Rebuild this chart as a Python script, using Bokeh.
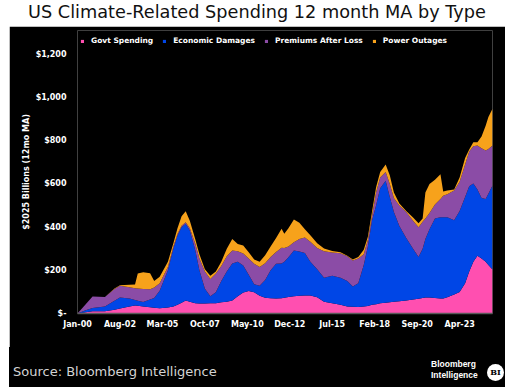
from bokeh.plotting import figure
from bokeh.models import ColumnDataSource, Range1d, FixedTicker, Legend, LegendItem, Div
from bokeh.layouts import column
from bokeh.embed import file_html
from bokeh.resources import INLINE

# months since Jan-2000
months = [0, 6, 11, 20, 27, 31, 38, 42, 44, 48, 53, 56, 60, 66, 70, 73, 76, 79, 82, 86,
          89, 93, 97, 101, 105, 109, 113, 117, 121, 125, 129, 133, 137, 141, 145, 149, 151, 154, 158, 162,
          166, 170, 175, 180, 186, 192, 197, 201, 205, 209, 212, 215, 218, 221, 225, 228, 231, 235, 240, 245,
          249, 252, 254, 257, 261, 265, 267, 270, 275, 279, 283, 286, 289, 292, 295, 298, 300, 303]
govt = [0, 6, 10, 11, 17, 23, 32, 37, 36, 33, 29, 27, 24, 28, 32, 40, 50, 60, 55, 47,
        46, 46, 47, 48, 52, 55, 60, 80, 97, 104, 98, 82, 73, 71, 69, 71, 73, 76, 80, 82,
        83, 83, 75, 55, 48, 40, 33, 31, 30, 32, 35, 40, 43, 47, 50, 52, 54, 57, 60, 65,
        68, 72, 74, 74, 72, 69, 69, 75, 88, 100, 140, 195, 240, 268, 255, 240, 225, 204]
econ = [0, 9, 15, 21, 42, 51, 38, 25, 23, 20, 36, 45, 81, 172, 268, 320, 350, 356, 330, 246,
        154, 69, 33, 51, 98, 140, 172, 160, 125, 76, 37, 46, 82, 129, 161, 161, 167, 184, 212, 205,
        197, 157, 130, 111, 127, 126, 117, 94, 110, 193, 275, 390, 457, 533, 565, 488, 416, 348, 290, 235,
        194, 228, 271, 316, 368, 377, 377, 371, 344, 375, 400, 395, 362, 307, 280, 290, 330, 389]
premiums = [0, 28, 54, 44, 55, 54, 52, 55, 57, 61, 47, 48, 35, 15, 10, 8, 6, 7, 10, 30,
            55, 80, 80, 86, 70, 70, 60, 48, 56, 75, 95, 87, 78, 62, 55, 73, 63, 50, 38, 58,
            72, 92, 99, 122, 108, 113, 115, 120, 115, 50, 30, 20, 60, 50, 40, 60, 65, 95, 120, 130,
            138, 125, 95, 75, 65, 84, 99, 106, 138, 135, 150, 160, 173, 203, 230, 225, 207, 185]
power = [0, 0, 0, 1, 2, 3, 11, 17, 69, 77, 75, 30, 30, 25, 15, 27, 44, 51, 35, 21,
         20, 10, 15, 10, 20, 35, 53, 34, 37, 29, 20, 25, 37, 48, 65, 88, 67, 85, 105, 75,
         38, 30, 21, 13, 6, 5, 3, 5, 7, 20, 15, 20, 25, 25, 35, 40, 25, 10, 5, 15,
         18, 15, 120, 135, 115, 115, 20, 18, 4, 20, 30, 10, 18, 15, 55, 115, 148, 170]

series_keys = ["govt", "econ", "premiums", "power"]
series_names = ["Govt Spending", "Economic Damages", "Premiums After Loss", "Power Outages"]
series_colors = ["#ff4fb0", "#0046e6", "#8b4ca6", "#f7a21b"]

tick_months = [0, 31, 62, 93, 124, 155, 186, 217, 248, 279]
tick_labels = ["Jan-00", "Aug-02", "Mar-05", "Oct-07", "May-10", "Dec-12",
               "Jul-15", "Feb-18", "Sep-20", "Apr-23"]
y_ticks = [0, 200, 400, 600, 800, 1000, 1200]
y_labels = ["$-", "$200", "$400", "$600", "$800", "$1,000", "$1,200"]

W = 496
src = ColumnDataSource(dict(month=months, govt=govt, econ=econ, premiums=premiums, power=power))

# y range extends above the top tick so the legend can sit inside the frame
p = figure(width=W, height=321, x_range=Range1d(0, 303), y_range=Range1d(0, 1311),
           output_backend="svg", toolbar_location=None,
           min_border_left=68, min_border_right=13, min_border_top=4, min_border_bottom=34)
p.border_fill_color = "black"
p.background_fill_color = "black"
p.outline_line_color = None
p.grid.visible = False

rs = p.varea_stack(stackers=series_keys, x="month", source=src, color=series_colors)

font = "DejaVu Sans"
p.xaxis.ticker = FixedTicker(ticks=tick_months)
p.xaxis.major_label_overrides = dict(zip(tick_months, tick_labels))
p.yaxis.ticker = FixedTicker(ticks=y_ticks)
p.yaxis.major_label_overrides = dict(zip(y_ticks, y_labels))
for ax in (p.xaxis[0], p.yaxis[0]):
    ax.major_tick_line_color = None
    ax.minor_tick_line_color = None
    ax.major_tick_out = 0
    ax.major_tick_in = 0
    ax.minor_tick_out = 0
    ax.major_label_text_color = "white"
    ax.major_label_text_font = font
    ax.major_label_text_font_style = "bold"
    ax.major_label_text_font_size = "8px"
p.xaxis.axis_line_color = "#5a5a5a"
p.xaxis.axis_line_width = 1.5
p.xaxis.major_label_standoff = 6
p.yaxis.axis_line_color = None
p.yaxis.major_label_standoff = 11
p.yaxis.axis_label = "$2025 Billions (12mo MA)"
p.yaxis.axis_label_text_color = "white"
p.yaxis.axis_label_text_font = font
p.yaxis.axis_label_text_font_style = "bold"
p.yaxis.axis_label_text_font_size = "8px"
p.yaxis.axis_label_standoff = 2

legend = Legend(items=[LegendItem(label=n, renderers=[r]) for n, r in zip(series_names, rs)],
                location=(3, 268), orientation="horizontal",
                padding=0, margin=0, spacing=9, glyph_width=4, glyph_height=4,
                label_standoff=7, label_height=8,
                label_text_font=font, label_text_font_style="bold", label_text_font_size="7.5px",
                label_text_color="white", background_fill_alpha=0, border_line_alpha=0)
p.add_layout(legend)

title = Div(text='<div style="width:496px;margin-top:2px;line-height:20px;text-align:center;'
                 'font-family:\'DejaVu Sans\';font-size:17.7px;color:#111;white-space:nowrap;">'
                 'US Climate-Related Spending 12 month MA by Type</div>',
            width=W, height=26, margin=0)

footer = Div(text=(
    '<div style="position:relative;width:496px;height:40px;background:#000;overflow:hidden;">'
    '<span style="position:absolute;left:4px;top:17px;line-height:15px;font-family:\'DejaVu Sans\';'
    'font-size:13px;color:#d4d4d4;white-space:nowrap;">Source: Bloomberg Intelligence</span>'
    '<span style="position:absolute;left:422px;top:12px;line-height:11px;font-family:\'Liberation Sans\';'
    'font-weight:bold;font-size:8.5px;color:#fff;white-space:nowrap;">Bloomberg<br>Intelligence</span>'
    '<span style="position:absolute;left:478px;top:17px;width:17px;height:17px;border-radius:50%;'
    'background:#fff;color:#000;text-align:center;line-height:17px;font-family:\'DejaVu Serif\';'
    'font-weight:bold;font-size:8px;">BI</span>'
    '</div>'), width=W, height=40, margin=0, styles={"background-color": "black"})

layout = column(title, p, footer, margin=(0, 0, 0, 9))
open("out.html", "w").write(file_html(layout, INLINE))
